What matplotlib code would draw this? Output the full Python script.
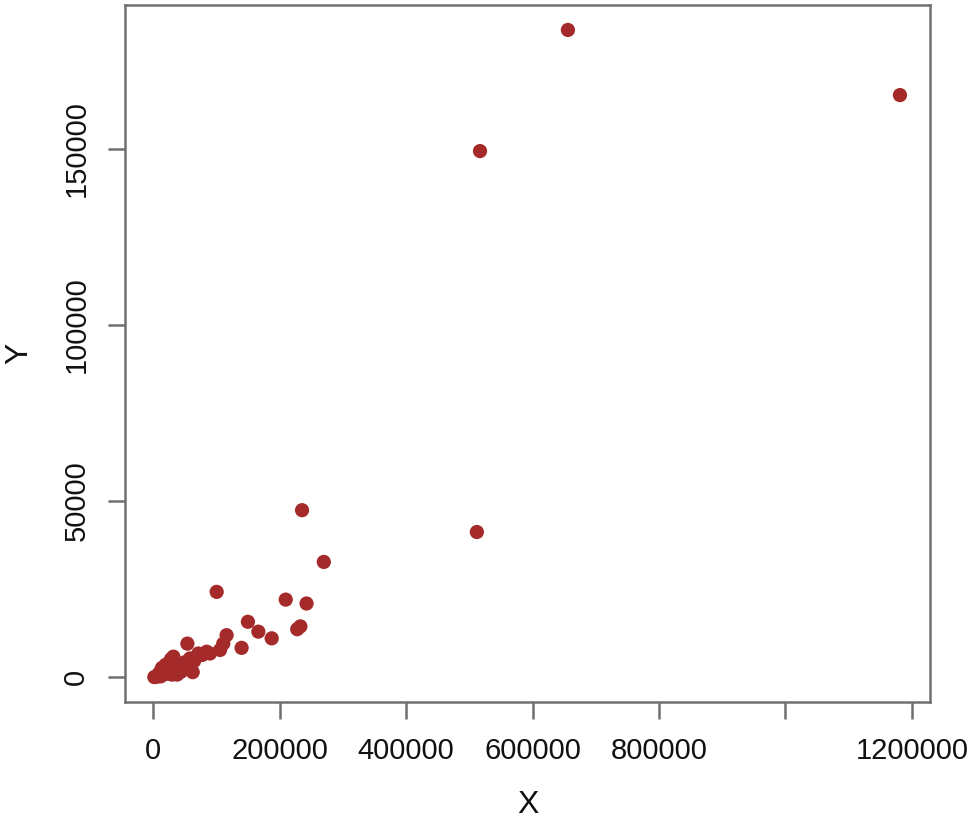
import matplotlib
matplotlib.use("Agg")

import matplotlib.pyplot as plt

plt.rcParams["font.family"] = ["Liberation Sans", "DejaVu Sans"]

# points
x_vals = [1181000, 656000, 517000, 512000, 235600, 270000, 100600, 209800,
          242700, 228000, 233000, 150000, 166500, 187600, 140000, 116300,
          111000, 106000, 54300, 90000, 84800, 71600, 58500, 32100,
          42700, 21600, 5800, 26900, 62700, 28500, 2000, 10000, 15000,
          18000, 24000, 36000, 40000, 46000, 50000, 65000, 78000, 30000,
          12000, 8000, 34000, 20000, 25000, 38000, 44000, 14000]
y_vals = [165300, 183800, 149400, 41200, 47400, 32700, 24200, 22000,
          20900, 13600, 14400, 15700, 12900, 11000, 8300, 11900,
          9500, 7700, 9500, 6700, 7200, 6700, 5300, 5800,
          2900, 2000, 100, 4400, 1400, 5100, 0, 1200, 1500,
          800, 3000, 1800, 3800, 2500, 4200, 4600, 6300, 700,
          200, 600, 2400, 3500, 1000, 700, 1500, 2600]

x_ticks = [0, 200000, 400000, 600000, 800000, 1000000, 1200000]
x_tick_labels = ["0", "200000", "400000", "600000", "800000", "", "1200000"]
y_ticks = [0, 50000, 100000, 150000]
y_tick_labels = ["0", "50000", "100000", "150000"]

FRAME = "#707070"

fig = plt.figure(figsize=(9.73, 8.25), dpi=100)
ax = fig.add_axes([0.1285, 0.149, 0.8273, 0.845])

ax.scatter(x_vals, y_vals, s=105, color="#a52a2a", edgecolors="none", zorder=3)

ax.set_xlim(-44300, 1228500)
ax.set_ylim(-7100, 190900)

ax.set_xticks(x_ticks)
ax.set_xticklabels(x_tick_labels)
ax.set_yticks(y_ticks)
ax.set_yticklabels(y_tick_labels, rotation=90, va="center")

for sp in ax.spines.values():
    sp.set_color(FRAME)
    sp.set_linewidth(1.8)

ax.tick_params(axis="both", length=12, width=1.8, color=FRAME,
               labelsize=21, labelcolor="#111111", pad=13)

ax.set_xlabel("X", fontsize=23, color="#111111", labelpad=18)
ax.set_ylabel("Y", fontsize=23, color="#111111", labelpad=20)

fig.savefig("out.png", dpi=100)
plt.close(fig)
